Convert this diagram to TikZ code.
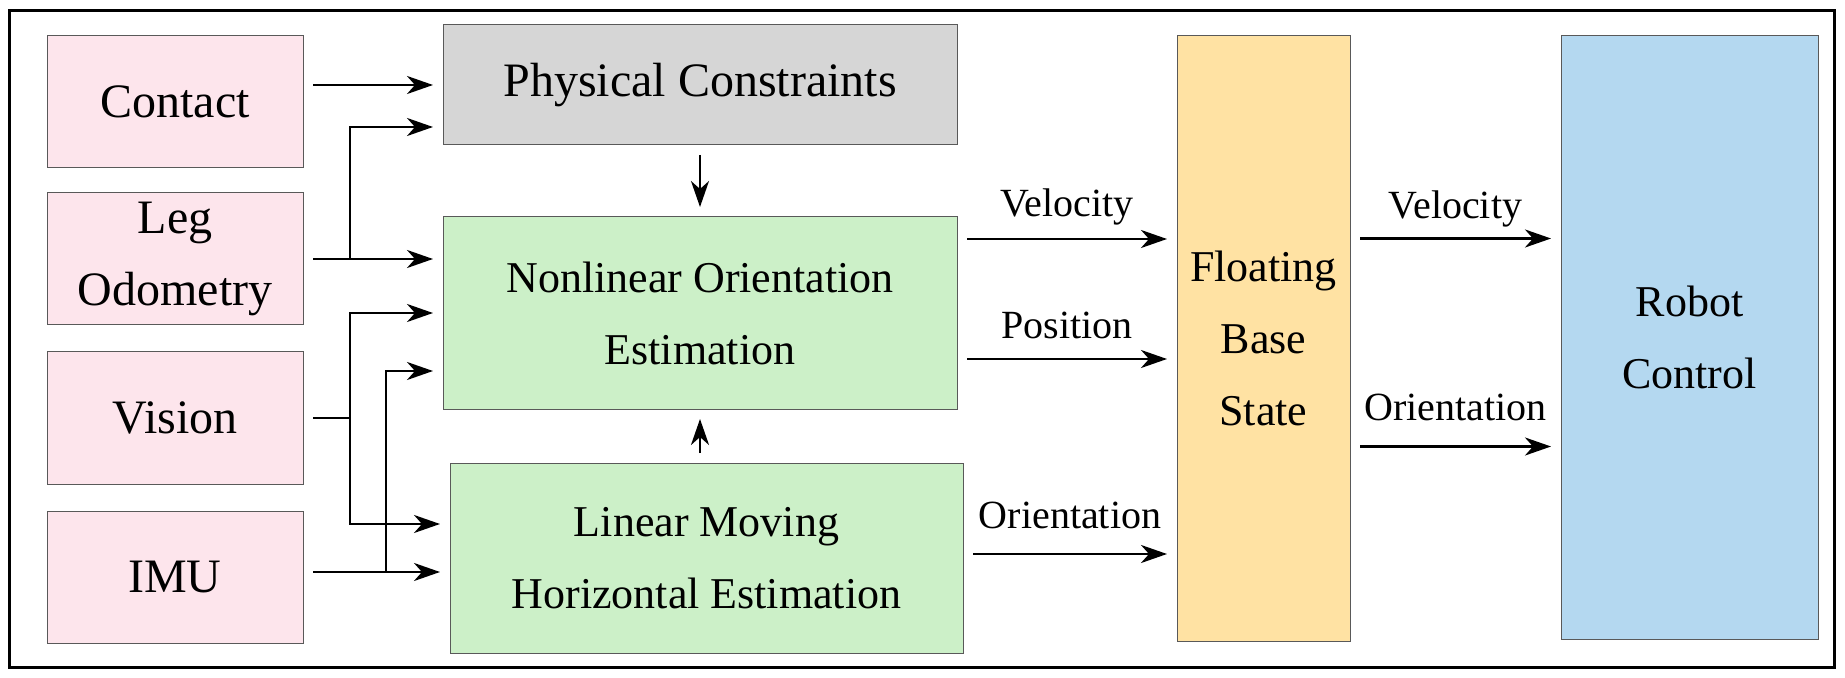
\documentclass[tikz,border=0pt]{standalone}
\usepackage{fontspec}
\setmainfont{Liberation Serif}
\usepackage{xcolor}
\usepackage{tikz}
\usetikzlibrary{arrows.meta}

\definecolor{inpink}{RGB}{253,229,236}
\definecolor{physgray}{RGB}{214,214,214}
\definecolor{estgreen}{RGB}{204,240,200}
\definecolor{stateorange}{RGB}{255,226,163}
\definecolor{ctrlblue}{RGB}{180,216,240}

\tikzset{
  blk/.style={draw=black!65, line width=0.5pt, align=center, inner sep=0pt,
    outer sep=5pt, font=\fontsize{24}{36}\selectfont},
  insrc/.style={blk, fill=inpink, minimum width=128pt, minimum height=66pt},
  estblk/.style={blk, font=\fontsize{22}{36}\selectfont},
  flow/.style={-{Stealth[length=13pt,width=9pt,inset=4pt]}, line width=1.4pt},
  lbl/.style={font=\fontsize{20}{24}\selectfont, anchor=base, inner sep=0pt},
}

\begin{document}
\begin{tikzpicture}[x=0.5pt,y=-0.5pt]
    \useasboundingbox (0,0) rectangle (1845,678);
    \draw[line width=1.5pt] (9,11) rectangle (1834,667);
    % inputs
    \node[insrc] (contact) at (175,101.5) {Contact};
    \node[insrc] (leg) at (175,259) {Leg\\Odometry};
    \node[insrc] (vision) at (175,418) {Vision};
    \node[insrc] (imu) at (175,577) {IMU};
    % estimators
    \node[blk, fill=physgray, minimum width=257pt, minimum height=60pt]
      (phys) at (700,85) {Physical Constraints};
    \node[estblk, fill=estgreen, minimum width=257pt, minimum height=96pt]
      (nonlin) at (700,313) {Nonlinear Orientation\\Estimation};
    \node[estblk, fill=estgreen, minimum width=256.5pt, minimum height=95pt]
      (linear) at (706.5,558) {Linear Moving\\Horizontal Estimation};
    \node[estblk, fill=stateorange, minimum width=86.5pt, minimum height=302.5pt]
      (fbase) at (1263.5,338.5) {Floating\\Base\\State};
    \node[estblk, fill=ctrlblue, minimum width=128.5pt, minimum height=301.5pt]
      (robot) at (1689.5,337.5) {Robot\\Control};
    %
    \coordinate (jl) at (350,259);
    \coordinate (jv) at (350,418);
    \coordinate (ji) at (386,572);
    \draw[flow] (contact.east |- phys.west) -- (phys.west);
    \draw[flow] (leg.east) -- (leg.east -| nonlin.west);
    \draw[flow] (jl) |- ([yshift=-21pt]phys.west);
    \draw[line width=1.4pt] (vision.east) -- (jv);
    \draw[flow] (jv) |- (nonlin.west);
    \draw[flow] (jv) |- ([yshift=17pt]linear.west);
    \draw[flow] (imu.east |- ji) -- ([yshift=-7pt]linear.west);
    \draw[flow] (ji) |- ([yshift=-29pt]nonlin.west);
    \draw[flow, line width=1pt] (phys.south) -- (nonlin.north);
    \draw[flow] (linear.north -| nonlin.south) -- (nonlin.south);
    %
    \draw[flow] ([yshift=37pt]nonlin.east) -- ([yshift=37pt]nonlin.east -| fbase.west)
      node[lbl, midway, yshift=11pt] (lvel) {Velocity};
    \draw[flow] ([yshift=-23pt]nonlin.east) -- ([yshift=-23pt]nonlin.east -| fbase.west)
      node[lbl, midway, yshift=10pt] (lpos) {Position};
    \draw[flow] ([yshift=2pt]linear.east) -- ([yshift=2pt]linear.east -| fbase.west)
      node[lbl, midway, yshift=13pt] (lori) {Orientation};
    \draw[flow] ([yshift=50pt]fbase.east) -- ([yshift=50pt]fbase.east -| robot.west)
      node[lbl, midway, yshift=10pt] (rvel) {Velocity};
    \draw[flow] ([yshift=-54pt]fbase.east) -- ([yshift=-54pt]fbase.east -| robot.west)
      node[lbl, midway, yshift=13pt] (rori) {Orientation};
\end{tikzpicture}
\end{document}
